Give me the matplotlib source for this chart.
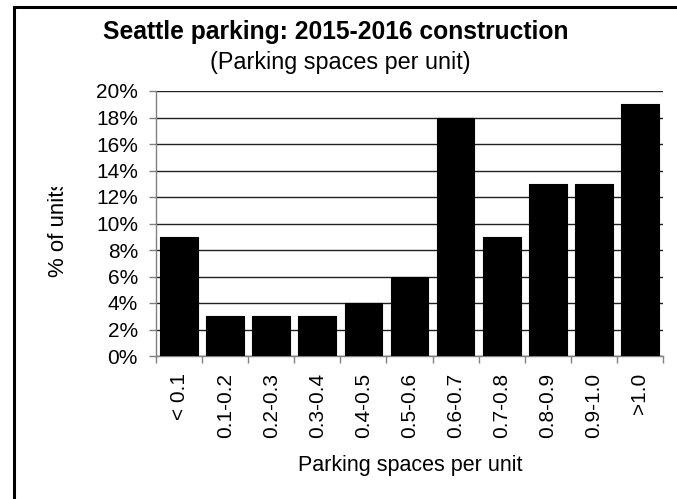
import matplotlib
matplotlib.use("Agg")
import matplotlib.pyplot as plt
from matplotlib.patches import Rectangle
from matplotlib.transforms import Bbox

plt.rcParams['font.family'] = ['Liberation Sans', 'DejaVu Sans']

# share of new units by parking ratio bucket
buckets = ['< 0.1', '0.1-0.2', '0.2-0.3', '0.3-0.4', '0.4-0.5', '0.5-0.6',
           '0.6-0.7', '0.7-0.8', '0.8-0.9', '0.9-1.0', '>1.0']
share_pct = [9, 3, 3, 3, 4, 6, 18, 9, 13, 13, 19]
y_ticks = [0, 2, 4, 6, 8, 10, 12, 14, 16, 18, 20]

W, H = 677, 499
fig = plt.figure(figsize=(W / 100, H / 100), dpi=100)
ax = fig.add_axes([156 / W, 1 - 356 / H, (663 - 156) / W, (356 - 91) / H])

x = range(len(buckets))
ax.bar(x, share_pct, width=0.82, color='black', edgecolor='black',
       linewidth=0.8, joinstyle='round', zorder=3)

ax.set_xlim(-0.5, len(buckets) - 0.5)
ax.set_ylim(0, 20)
ax.set_yticks(y_ticks)
ax.set_yticklabels([f'{v}%' for v in y_ticks], fontsize=15)
ax.yaxis.grid(True, color='#202020', linewidth=1.0, zorder=0)

# category labels in the middle, tick marks on the boundaries
ax.set_xticks(list(x))
ax.set_xticklabels(buckets, rotation=90, fontsize=15, va='top')
ax.tick_params(axis='x', which='major', length=0, pad=12)
ax.set_xticks([i - 0.5 for i in range(len(buckets) + 1)], minor=True)
ax.tick_params(axis='x', which='minor', length=5, color='#808080', width=1)
ax.tick_params(axis='y', length=5, color='#808080', width=1, pad=8)

for side in ('top', 'right'):
    ax.spines[side].set_visible(False)
for side in ('left', 'bottom'):
    ax.spines[side].set_color('#808080')
    ax.spines[side].set_linewidth(1)

fig.text(336 / W, 1 - 32 / H, 'Seattle parking: 2015-2016 construction',
         ha='center', va='center', fontsize=17.7, fontweight='bold')
fig.text(340 / W, 1 - 62 / H, '(Parking spaces per unit)',
         ha='center', va='center', fontsize=16.8)
fig.text(410 / W, 1 - 466 / H, 'Parking spaces per unit',
         ha='center', va='center', fontsize=15.5)

# y label sits in a box too short for it, so the end is cut off
ylab = fig.text(58 / W, 1 - 277 / H, '% of units', rotation=90,
                ha='center', va='bottom', fontsize=16)
ylab.set_clip_box(Bbox.from_extents(0, 0, W, H - 187))
ylab.set_clip_on(True)

# frame around the chart area
fig.patches.append(Rectangle((13.5 / W, -0.1), 1.2, 1 - 6.5 / H + 0.1,
                             transform=fig.transFigure, fill=False,
                             edgecolor='black', linewidth=2.2))

fig.savefig('out.png', dpi=100)
